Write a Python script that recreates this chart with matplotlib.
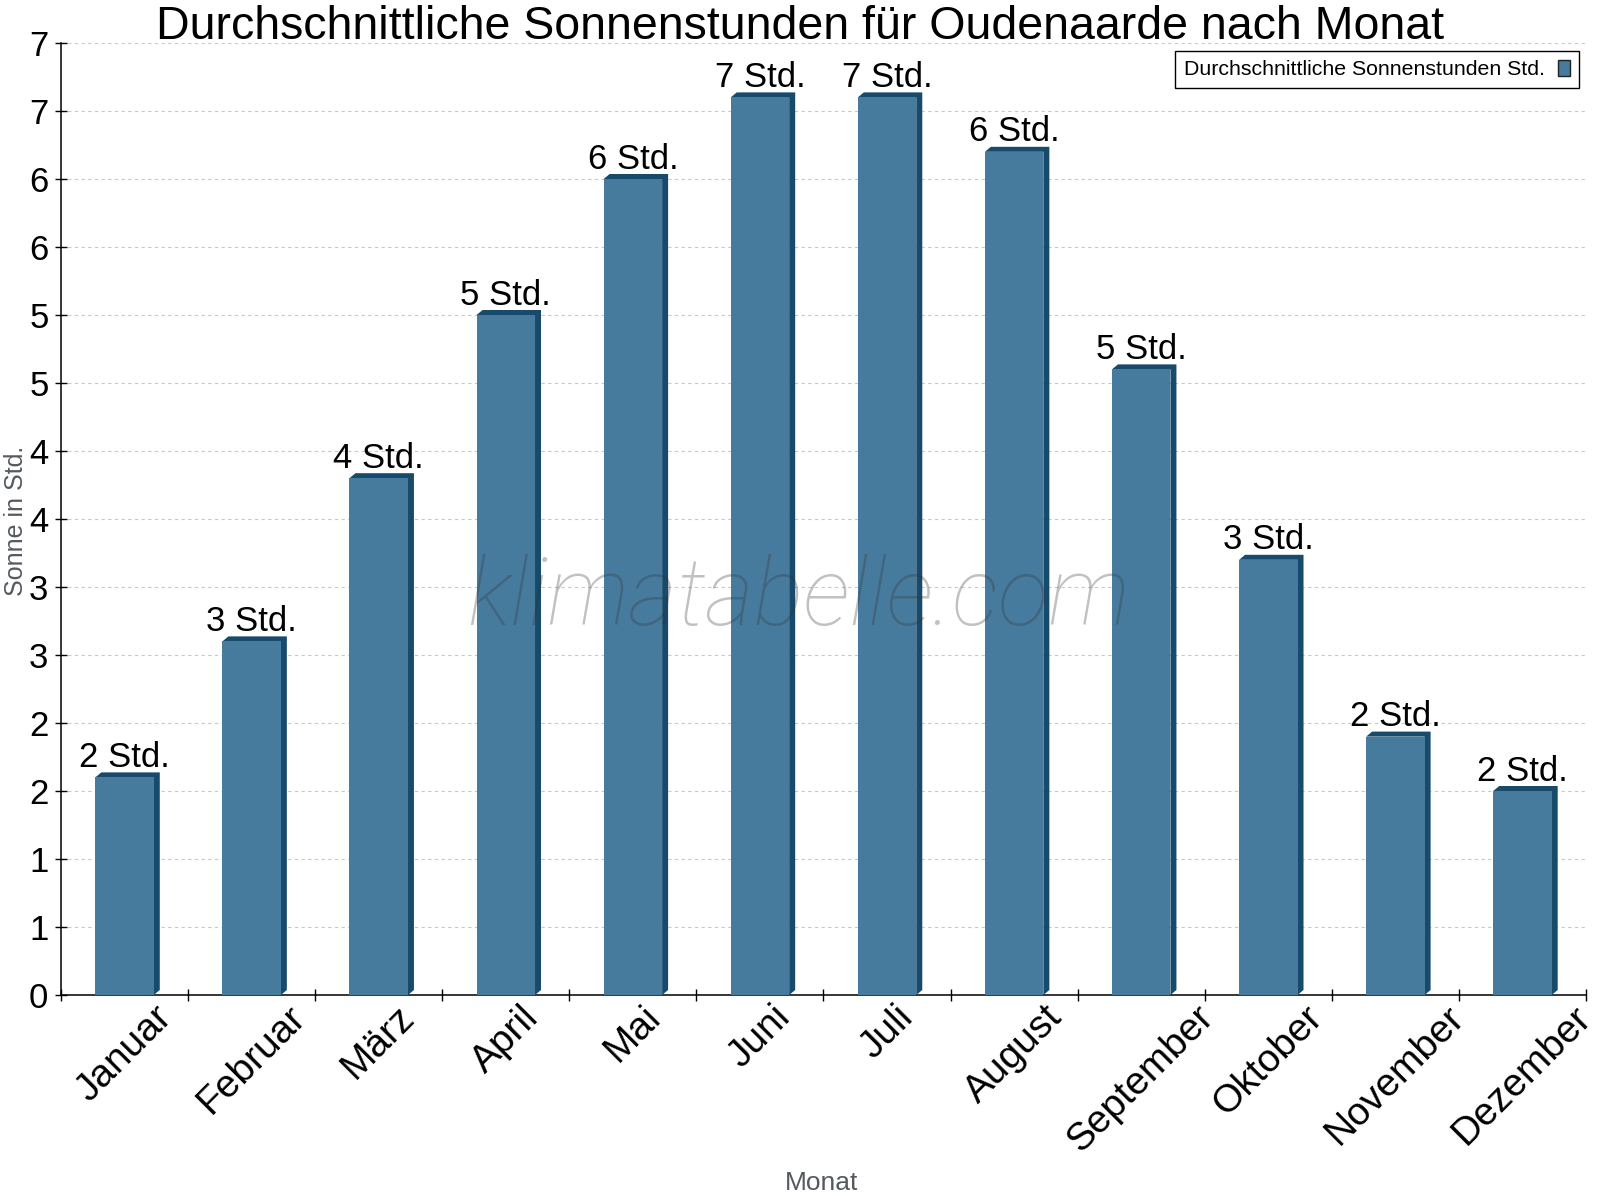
import matplotlib
matplotlib.use('Agg')
import matplotlib.pyplot as plt
from matplotlib.patches import Polygon, Patch
import numpy as np

months = ['Januar', 'Februar', 'März', 'April', 'Mai', 'Juni', 'Juli',
          'August', 'September', 'Oktober', 'November', 'Dezember']
sun_hours = [1.6, 2.6, 3.8, 5.0, 6.0, 6.6, 6.6, 6.2, 4.6, 3.2, 1.9, 1.5]
value_labels = ['2 Std.', '3 Std.', '4 Std.', '5 Std.', '6 Std.', '7 Std.',
                '7 Std.', '6 Std.', '5 Std.', '3 Std.', '2 Std.', '2 Std.']
y_ticks = [0, 0.5, 1, 1.5, 2, 2.5, 3, 3.5, 4, 4.5, 5, 5.5, 6, 6.5, 7]
y_tick_labels = ['0', '1', '1', '2', '2', '3', '3', '4', '4', '5', '5', '6', '6', '7', '7']

title = 'Durchschnittliche Sonnenstunden für Oudenaarde nach Monat'
legend_label = 'Durchschnittliche Sonnenstunden Std.'

FACE = '#467B9E'
SIDE = '#174A6B'

plt.rcParams['font.family'] = ['Liberation Sans', 'DejaVu Sans']

W, H = 1600, 1200
fig = plt.figure(figsize=(W / 100, H / 100), dpi=100)
ax_left, ax_right, ax_top, ax_bottom = 61, 1586, 43, 995
ax = fig.add_axes([ax_left / W, 1 - ax_bottom / H, (ax_right - ax_left) / W, (ax_bottom - ax_top) / H])

x = np.arange(len(months))
ax.set_xlim(-0.5, len(months) - 0.5)
ax.set_ylim(0, 7)

width = 0.46
bars = ax.bar(x, sun_hours, width, color=FACE, zorder=3, linewidth=0)

# 3D depth in pixels converted to data units
p0 = ax.transData.transform((0, 0))
d = ax.transData.inverted().transform(p0 + np.array([6, 5]))
dx, dy = d[0], d[1]
for xi, v in zip(x, sun_hours):
    L, R = xi - width / 2, xi + width / 2
    verts = [(L, v), (L + dx, v + dy), (R + dx, v + dy), (R + dx, dy), (R, 0), (R, v)]
    ax.add_patch(Polygon(verts, closed=True, facecolor=SIDE, edgecolor='none', zorder=2.9))

for xi, v, lab in zip(x, sun_hours, value_labels):
    ax.annotate(lab, (xi, v), xytext=(0, 7.5), textcoords='offset points',
                ha='center', va='baseline', fontsize=25, color='black', zorder=5)

# axes styling
for s in ['top', 'right']:
    ax.spines[s].set_visible(False)
for s in ['left', 'bottom']:
    ax.spines[s].set_linewidth(1.1)
    ax.spines[s].set_color('black')

ax.set_yticks(y_ticks)
ax.set_yticklabels(y_tick_labels)
ax.tick_params(axis='y', direction='inout', length=8, width=1, pad=5, labelsize=25)

ax.set_xticks(x)
ax.set_xticklabels(months, rotation=45, ha='center', va='top')
ax.tick_params(axis='x', which='major', length=0, pad=3, labelsize=28)
ax.set_xticks(np.arange(-0.5, len(months) + 0.5, 1), minor=True)
ax.tick_params(axis='x', which='minor', direction='inout', length=8, width=1)

ax.yaxis.grid(True, color='#c8c8c8', linestyle=(0, (3, 3)), linewidth=0.8)
ax.set_axisbelow(True)

# texts
fig.text(0.5, 1 - 39 / H, title, ha='center', va='baseline', fontsize=33.5, color='black')
fig.text(16 / W, 1 - 521 / H, 'Sonne in Std.', rotation=90, ha='center', va='center',
         fontsize=18, color='#555a60')
fig.text(822 / W, 1 - 1183 / H, 'Monat', ha='center', va='center', fontsize=19, color='#555a60')

# watermark
fig.text(799 / W, 1 - 625 / H, 'klimatabelle.com', ha='center', va='baseline', fontsize=67.5,
         family=['Roboto', 'DejaVu Sans'], style='italic', weight='light',
         color='#333333', alpha=0.3, zorder=10)

# legend
handle = Patch(facecolor=FACE, edgecolor='#222222', linewidth=1)
leg = ax.legend([handle], [legend_label], loc='upper right',
                bbox_to_anchor=(1579 / W, 1 - 51 / H), bbox_transform=fig.transFigure,
                markerfirst=False, fancybox=False, edgecolor='black', framealpha=1,
                fontsize=15.3, handlelength=0.55, handleheight=0.8, borderpad=0.42,
                handletextpad=0.65, borderaxespad=0)
leg.get_frame().set_linewidth(1)

fig.savefig('out.png', dpi=100)
